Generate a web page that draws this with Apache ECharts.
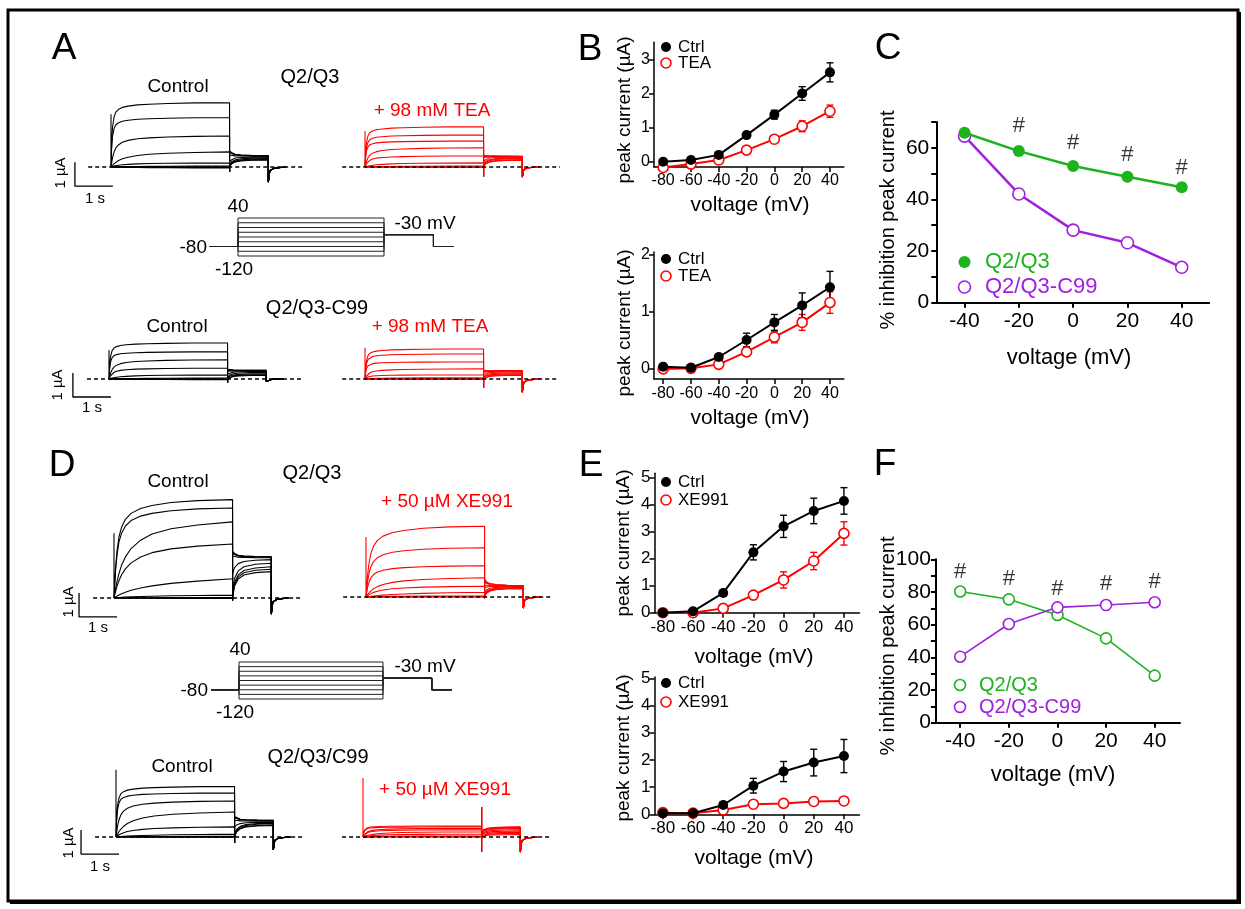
<!DOCTYPE html>
<html><head><meta charset="utf-8">
<script src="https://cdn.jsdelivr.net/npm/echarts@6/dist/echarts.min.js"></script>
<style>html,body{margin:0;padding:0;background:#fff}#c{width:1245px;height:909px}</style>
</head><body><div id="c"></div>
<script>
// ================= DATA =================
// I-V curves (panels B and E)
const ivVolt = [-80, -60, -40, -20, 0, 20, 40];
const bTopCtrl = [0.0, 0.05, 0.2, 0.78, 1.38, 2.0, 2.62];
const bTopCtrlErr = [0.04, 0.05, 0.06, 0.09, 0.13, 0.2, 0.28];
const bTopTEA = [-0.17, -0.07, 0.05, 0.34, 0.66, 1.04, 1.48];
const bTopTEAErr = [0.03, 0.03, 0.04, 0.06, 0.08, 0.16, 0.18];
const bBotCtrl = [0.03, 0.01, 0.2, 0.5, 0.81, 1.11, 1.43];
const bBotCtrlErr = [0.02, 0.02, 0.05, 0.12, 0.14, 0.22, 0.28];
const bBotTEA = [-0.01, 0.0, 0.07, 0.29, 0.55, 0.81, 1.16];
const bBotTEAErr = [0.02, 0.02, 0.03, 0.05, 0.1, 0.14, 0.19];
const eTopCtrl = [0.0, 0.05, 0.73, 2.23, 3.19, 3.76, 4.13];
const eTopCtrlErr = [0.02, 0.04, 0.12, 0.28, 0.41, 0.47, 0.49];
const eTopXE = [0.0, 0.0, 0.16, 0.65, 1.21, 1.91, 2.93];
const eTopXEErr = [0.02, 0.02, 0.05, 0.12, 0.3, 0.32, 0.43];
const eBotCtrl = [0.04, 0.04, 0.34, 1.05, 1.57, 1.9, 2.14];
const eBotCtrlErr = [0.02, 0.03, 0.12, 0.27, 0.37, 0.49, 0.61];
const eBotXE = [0.06, 0.04, 0.16, 0.37, 0.4, 0.47, 0.49];
const eBotXEErr = [0.02, 0.02, 0.04, 0.06, 0.06, 0.07, 0.07];

// % inhibition (panels C and F)
const inhVolt = [-40, -20, 0, 20, 40];
const cQ2Q3 = [65.8, 58.7, 52.9, 48.8, 44.7];
const cC99 = [64.5, 42.1, 28.1, 23.2, 13.7];
const cHashVolt = [-20, 0, 20, 40];
const cHashY = [68.3, 61.8, 57.3, 52.1];
const fQ2Q3 = [80.3, 75.5, 65.9, 51.6, 28.8];
const fC99 = [40.4, 60.4, 70.6, 72.0, 73.7];
const fHashVolt = [-40, -20, 0, 20, 40];
const fHashY = [92.3, 87.8, 82.1, 84.8, 86.0];

// tick values
const ivTicks = [-80, -60, -40, -20, 0, 20, 40];
const inhTicks = [-40, -20, 0, 20, 40];
const bTopYTicks = [0, 1, 2, 3];
const bBotYTicks = [0, 1, 2];
const eYTicks = [0, 1, 2, 3, 4, 5];
const cYTicks = [0, 10, 20, 30, 40, 50, 60, 70];
const cYLabels = [0, 20, 40, 60];
const fYTicks = [0, 10, 20, 30, 40, 50, 60, 70, 80, 90, 100];
const fYLabels = [0, 20, 40, 60, 80, 100];

// voltage protocol (mV, s)
const protoSteps = [-120, -100, -80, -60, -40, -20, 0, 20, 40];
const protoHold = -80;
const protoTail = -30;
const protoTimes = [-0.6, 0, 3.1, 4.15, 4.58];

// current traces (uA), sweeps ordered from +40 mV down to -120 mV
const stepDur = 3.12, tailDur = 1.02;
const riseT = [0, 0.015, 0.04, 0.08, 0.13, 0.2, 0.3, 0.45, 0.7, 1.0, 1.5, 2.2, 3.12];
const riseFast = [0, 0.35, 0.62, 0.78, 0.86, 0.9, 0.93, 0.95, 0.97, 0.98, 0.99, 1.0, 1.0];
const riseMid = [0, 0.12, 0.3, 0.48, 0.62, 0.72, 0.8, 0.86, 0.91, 0.94, 0.97, 0.99, 1.0];
const riseSlow = [0, 0.05, 0.12, 0.22, 0.32, 0.43, 0.54, 0.65, 0.76, 0.84, 0.91, 0.96, 1.0];
const riseVSlow = [0, 0.02, 0.05, 0.1, 0.15, 0.22, 0.3, 0.4, 0.52, 0.63, 0.76, 0.88, 1.0];
const tailT = [0, 0.05, 0.15, 0.3, 0.6, 1.02];
const tailShape = [0, 0.45, 0.72, 0.87, 0.96, 1.0];
const offT = [0, 0.04, 0.15, 0.45];
const offShape = [1, 0.25, 0.08, 0];

const aTopCtrlLevel = [2.67, 2.05, 1.29, 0.63, 0.17, 0.04, 0.0, -0.02, -0.04];
const aTopCtrlKin = [0, 0, 1, 2, 2, 3, 3, 3, 3];
const aTopCtrlTail0 = [0.68, 0.65, 0.6, 0.5, 0.25, 0.08, 0.03, 0.01, 0.0];
const aTopCtrlTail1 = [0.47, 0.47, 0.46, 0.45, 0.42, 0.38, 0.34, 0.31, 0.29];
const aTopCtrlSpikes = [2.2, null, -0.2, -0.63];
const aTopTEALevel = [1.67, 1.33, 1.08, 0.8, 0.46, 0.17, 0.04, 0.0, -0.02];
const aTopTEAKin = [0, 0, 0, 1, 1, 2, 3, 3, 3];
const aTopTEATail0 = [0.48, 0.47, 0.45, 0.4, 0.25, 0.1, 0.05, 0.02, 0.0];
const aTopTEATail1 = [0.45, 0.45, 0.44, 0.43, 0.42, 0.38, 0.35, 0.3, 0.28];
const aTopTEASpikes = [1.5, null, -0.4, -0.42];
const aBotCtrlLevel = [1.5, 1.13, 0.8, 0.45, 0.17, 0.04, 0.0, -0.02, -0.03];
const aBotCtrlKin = [0, 0, 1, 1, 2, 3, 3, 3, 3];
const aBotCtrlTail0 = [0.4, 0.4, 0.38, 0.33, 0.2, 0.05, 0.02, 0.0, 0.0];
const aBotCtrlTail1 = [0.36, 0.36, 0.35, 0.34, 0.32, 0.28, 0.22, 0.18, 0.15];
const aBotCtrlSpikes = [1.2, null, -0.15, -0.1];
const aBotTEALevel = [1.25, 1.04, 0.71, 0.42, 0.17, 0.05, 0.01, 0.0, -0.02];
const aBotTEAKin = [0, 0, 0, 1, 1, 2, 3, 3, 3];
const aBotTEATail0 = [0.36, 0.35, 0.33, 0.28, 0.18, 0.06, 0.02, 0.0, 0.0];
const aBotTEATail1 = [0.34, 0.34, 0.33, 0.32, 0.3, 0.26, 0.22, 0.18, 0.15];
const aBotTEASpikes = [1.3, null, -0.35, -0.55];
const dTopCtrlLevel = [4.1, 3.75, 3.17, 2.25, 0.8, 0.12, 0.02, 0.0, -0.02];
const dTopCtrlKin = [1, 1, 2, 2, 3, 3, 3, 3, 3];
const dTopCtrlTail0 = [1.95, 1.9, 1.85, 1.75, 1.0, 0.3, 0.1, 0.05, 0.0];
const dTopCtrlTail1 = [1.72, 1.72, 1.7, 1.68, 1.6, 1.45, 1.3, 1.2, 1.1];
const dTopCtrlSpikes = [2.7, null, -0.1, -0.67];
const dTopXELevel = [2.95, 2.05, 1.3, 0.8, 0.45, 0.2, 0.05, 0.01, 0.0];
const dTopXEKin = [1, 1, 1, 2, 2, 3, 3, 3, 3];
const dTopXETail0 = [0.75, 0.7, 0.6, 0.5, 0.4, 0.2, 0.1, 0.05, 0.0];
const dTopXETail1 = [0.48, 0.48, 0.47, 0.46, 0.45, 0.43, 0.4, 0.38, 0.35];
const dTopXESpikes = [2.5, null, -0.05, -0.46];
const dBotCtrlLevel = [2.1, 1.83, 1.5, 1.04, 0.42, 0.12, 0.03, 0.0, -0.01];
const dBotCtrlKin = [0, 0, 1, 2, 2, 3, 3, 3, 3];
const dBotCtrlTail0 = [0.85, 0.83, 0.8, 0.7, 0.4, 0.1, 0.05, 0.0, 0.0];
const dBotCtrlTail1 = [0.7, 0.7, 0.68, 0.66, 0.62, 0.58, 0.55, 0.5, 0.48];
const dBotCtrlSpikes = [2.8, null, -0.25, -0.54];
const dBotXELevel = [0.46, 0.42, 0.36, 0.3, 0.22, 0.12, 0.05, 0.02, 0.0];
const dBotXEKin = [0, 0, 1, 1, 2, 2, 3, 3, 3];
const dBotXETail0 = [0.2, 0.2, 0.18, 0.15, 0.1, 0.05, 0.02, 0.0, 0.0];
const dBotXETail1 = [0.42, 0.4, 0.38, 0.35, 0.3, 0.25, 0.2, 0.15, 0.1];
const dBotXESpikes = [2.46, 1.25, -0.63, -0.63];

// ================= BUILD =================
const FONT = "'Liberation Sans', Arial, Helvetica, sans-serif";
const RED = '#ff0000', GREEN = '#1db31d', PURPLE = '#a020e0';
const riseShapes = [riseFast, riseMid, riseSlow, riseVSlow];
const grids = [], xAxes = [], yAxes = [], series = [], gfx = [];

function addGrid(box, xa, ya) {
  grids.push(Object.assign({ containLabel: false, outerBoundsMode: 'none', show: false }, box));
  const i = grids.length - 1;
  xAxes.push(Object.assign({ gridIndex: i, type: 'value' }, xa));
  yAxes.push(Object.assign({ gridIndex: i, type: 'value' }, ya));
  return i;
}
function hiddenAxis(min, max) {
  return { min, max, show: false, splitLine: { show: false } };
}
function plotAxis(min, max, ticks, labels, fontSize, margin, w) {
  return {
    min, max,
    axisLine: { show: true, onZero: false, lineStyle: { color: '#000', width: w } },
    axisTick: { show: true, inside: false, length: 5, customValues: ticks, lineStyle: { color: '#000', width: w } },
    axisLabel: { show: true, customValues: labels, color: '#000', fontSize, fontFamily: FONT, margin },
    splitLine: { show: false }
  };
}

// ---- trace panels ----
const PXS = 38, PXA = 24; // px per second, px per uA
function tracePanel(stepX, baseY, dashT, levels, kin, tail0, tail1, spikes, color, scaleBar) {
  const xmin = -1.3, xmax = 5.3, ymin = -1.5, ymax = 4.7;
  const g = addGrid(
    { left: stepX + xmin * PXS, top: baseY - ymax * PXA, width: (xmax - xmin) * PXS, height: (ymax - ymin) * PXA },
    hiddenAxis(xmin, xmax), hiddenAxis(ymin, ymax));
  series.push({ type: 'line', xAxisIndex: g, yAxisIndex: g, data: [[dashT[0], 0], [dashT[1], 0]], symbol: 'none',
    lineStyle: { color: '#000', width: 1.6, type: [4, 3] }, z: 5, silent: true });
  const [sOn, sUp, sDown, sOff] = spikes;
  levels.forEach((lv, k) => {
    const shp = riseShapes[kin[k]];
    const d = [[0, 0]];
    if (k === 0 && sOn != null) { d.push([0, sOn]); d.push([0, 0]); }
    for (let i = 1; i < riseT.length; i++) d.push([riseT[i], lv * shp[i]]);
    d.push([stepDur, lv]);
    if (sUp != null) d.push([stepDur, sUp]);
    d.push([stepDur, sDown]);
    for (let i = 0; i < tailT.length; i++) d.push([stepDur + tailT[i], tail0[k] + (tail1[k] - tail0[k]) * tailShape[i]]);
    for (let i = 0; i < offT.length; i++) d.push([stepDur + tailDur + offT[i], sOff * offShape[i]]);
    series.push({ type: 'line', xAxisIndex: g, yAxisIndex: g, data: d, symbol: 'none',
      lineStyle: { color, width: 1.1 }, z: 2, silent: true });
  });
  if (scaleBar) {
    const [sx, sy] = scaleBar;
    series.push({ type: 'line', xAxisIndex: g, yAxisIndex: g, data: [[sx, sy + 1], [sx, sy], [sx + 1, sy]], symbol: 'none',
      lineStyle: { color: '#000', width: 1.3 }, z: 5, silent: true });
  }
}

tracePanel(111, 167, [-0.6, 5.05], aTopCtrlLevel, aTopCtrlKin, aTopCtrlTail0, aTopCtrlTail1, aTopCtrlSpikes, '#000', [-0.95, -0.8]);
tracePanel(365, 167, [-0.6, 5.13], aTopTEALevel, aTopTEAKin, aTopTEATail0, aTopTEATail1, aTopTEASpikes, RED, null);
tracePanel(109, 379, [-0.58, 5.1], aBotCtrlLevel, aBotCtrlKin, aBotCtrlTail0, aBotCtrlTail1, aBotCtrlSpikes, '#000', [-0.95, -0.75]);
tracePanel(365, 379, [-0.6, 5.08], aBotTEALevel, aBotTEAKin, aBotTEATail0, aBotTEATail1, aBotTEASpikes, RED, null);
tracePanel(114, 598, [-0.55, 4.9], dTopCtrlLevel, dTopCtrlKin, dTopCtrlTail0, dTopCtrlTail1, dTopCtrlSpikes, '#000', [-0.92, -0.79]);
tracePanel(366, 597, [-0.6, 4.92], dTopXELevel, dTopXEKin, dTopXETail0, dTopXETail1, dTopXESpikes, RED, null);
tracePanel(116, 837, [-0.55, 4.9], dBotCtrlLevel, dBotCtrlKin, dBotCtrlTail0, dBotCtrlTail1, dBotCtrlSpikes, '#000', [-0.92, -0.71]);
tracePanel(363, 837, [-0.55, 4.92], dBotXELevel, dBotXEKin, dBotXETail0, dBotXETail1, dBotXESpikes, RED, null);

// ---- voltage protocols ----
function protocolPanel(boxLeft, top40, pxs, pxmv) {
  const xmin = -0.8, xmax = 4.8, ymin = -130, ymax = 50;
  const g = addGrid({ left: boxLeft + xmin * pxs, top: top40 - (ymax - 40) * pxmv, width: (xmax - xmin) * pxs, height: (ymax - ymin) * pxmv },
    hiddenAxis(xmin, xmax), hiddenAxis(ymin, ymax));
  const [tPre, tOn, tOff, tTail, tEnd] = protoTimes;
  protoSteps.forEach(v => {
    series.push({ type: 'line', xAxisIndex: g, yAxisIndex: g, symbol: 'none', silent: true,
      data: [[tPre, protoHold], [tOn, protoHold], [tOn, v], [tOff, v], [tOff, protoTail], [tTail, protoTail], [tTail, protoHold], [tEnd, protoHold]],
      lineStyle: { color: '#222', width: 1 } });
  });
}
protocolPanel(238, 218, 47.1, 0.2375);
protocolPanel(239, 662, 46.45, 0.23125);

// ---- XY plots ----
function errSeries(g, xs, ys, es, color) {
  return { type: 'custom', xAxisIndex: g, yAxisIndex: g, z: 1, silent: true,
    data: xs.map((x, i) => [x, ys[i] - es[i], ys[i] + es[i]]),
    encode: { x: 0, y: [1, 2] },
    renderItem: (params, api) => {
      const x = api.value(0);
      const lo = api.coord([x, api.value(1)]), hi = api.coord([x, api.value(2)]);
      const w = 3.5, st = { stroke: color, lineWidth: 1.4 };
      return { type: 'group', children: [
        { type: 'line', shape: { x1: lo[0], y1: lo[1], x2: hi[0], y2: hi[1] }, style: st },
        { type: 'line', shape: { x1: hi[0] - w, y1: hi[1], x2: hi[0] + w, y2: hi[1] }, style: st },
        { type: 'line', shape: { x1: lo[0] - w, y1: lo[1], x2: lo[0] + w, y2: lo[1] }, style: st }
      ] };
    } };
}
function lineSeries(g, xs, ys, color, filled, size, width, z) {
  return { type: 'line', xAxisIndex: g, yAxisIndex: g, data: xs.map((x, i) => [x, ys[i]]), symbol: 'circle',
    symbolSize: size, showSymbol: true, clip: false, silent: true, z: z || 3,
    lineStyle: { color, width }, itemStyle: { color: filled ? color : '#fff', borderColor: color, borderWidth: filled ? 0 : 1.6 } };
}
function hashSeries(g, xs, ys) {
  return { type: 'scatter', xAxisIndex: g, yAxisIndex: g, data: xs.map((x, i) => [x, ys[i]]), symbolSize: 1, silent: true,
    itemStyle: { color: 'rgba(0,0,0,0)' },
    label: { show: true, formatter: '#', position: 'inside', color: '#000', fontSize: 22, fontFamily: FONT } };
}

function ivPanel(box, xr, yr, yTicks, ctrl, ctrlErr, drug, drugErr, fx, fy, mx, my) {
  const g = addGrid(box, plotAxis(xr[0], xr[1], ivTicks, ivTicks, fx, mx, 1.5), plotAxis(yr[0], yr[1], yTicks, yTicks, fy, my, 1.5));
  series.push(errSeries(g, ivVolt, drug, drugErr, RED));
  series.push(errSeries(g, ivVolt, ctrl, ctrlErr, '#000'));
  series.push(lineSeries(g, ivVolt, drug, RED, false, 10, 2, 3));
  series.push(lineSeries(g, ivVolt, ctrl, '#000', true, 10, 2, 4));
}
const bX = [-86.6, 50], bPx = 1.39;
ivPanel({ left: 654, top: 42.35, width: 136.6 * bPx, height: 3.655 * 34.1 }, bX, [-0.155, 3.5], bTopYTicks, bTopCtrl, bTopCtrlErr, bTopTEA, bTopTEAErr, 16, 16, 6, 4);
ivPanel({ left: 654, top: 252.1, width: 136.6 * bPx, height: 2.24 * 56.7 }, bX, [-0.19, 2.05], bBotYTicks, bBotCtrl, bBotCtrlErr, bBotTEA, bBotTEAErr, 16, 16, 6, 4);
const eX = [-85.6, 50.3], ePx = 1.509;
ivPanel({ left: 654.4, top: 473.3, width: 135.9 * ePx, height: 5.15 * 27.07 }, eX, [0, 5.15], eYTicks, eTopCtrl, eTopCtrlErr, eTopXE, eTopXEErr, 17, 17, 6, 4);
ivPanel({ left: 654.4, top: 676.9, width: 135.9 * ePx, height: 5.05 * 27.2 }, eX, [0, 5.05], eYTicks, eBotCtrl, eBotCtrlErr, eBotXE, eBotXEErr, 17, 17, 6, 4);

// panel C
const gC = addGrid({ left: 936.3, top: 121.9, width: 100.5 * 2.715, height: 180.8 },
  plotAxis(-50.4, 50.1, inhTicks, inhTicks, 21, 8, 2), plotAxis(0, 70, cYTicks, cYLabels, 21, 7, 2));
series.push(lineSeries(gC, inhVolt, cC99, PURPLE, false, 12, 2.5, 3));
series.push(lineSeries(gC, inhVolt, cQ2Q3, GREEN, true, 12, 2.5, 4));
series.push(hashSeries(gC, cHashVolt, cHashY));
// panel F
const gF = addGrid({ left: 935.9, top: 559.3, width: 100.4 * 2.431, height: 163.4 },
  plotAxis(-50, 50.4, inhTicks, inhTicks, 21, 8, 2), plotAxis(0, 100, fYTicks, fYLabels, 21, 5, 2));
series.push(lineSeries(gF, inhVolt, fQ2Q3, GREEN, false, 11, 1.6, 3));
series.push(lineSeries(gF, inhVolt, fC99, PURPLE, false, 11, 1.6, 4));
series.push(hashSeries(gF, fHashVolt, fHashY));

// ---- text & decorations ----
function T(x, y, text, size, color, align, rot) {
  return { type: 'text', x, y, rotation: rot || 0, silent: true, z: 10,
    style: { text, font: size + 'px ' + FONT, fill: color || '#000', align: align || 'center', verticalAlign: 'middle' } };
}
function dot(cx, cy, r, color, filled) {
  return { type: 'circle', shape: { cx, cy, r }, silent: true, z: 10,
    style: { fill: filled ? color : '#fff', stroke: color, lineWidth: filled ? 0 : 1.6 } };
}
const UP = Math.PI / 2;
gfx.push({ type: 'rect', shape: { x: 8, y: 10, width: 1230, height: 891 }, silent: true, z: 10,
  style: { fill: null, stroke: '#000', lineWidth: 3 } });
gfx.push({ type: 'polyline', shape: { points: [[1240, 12], [1240, 903], [10, 903]] }, silent: true, z: 10,
  style: { fill: null, stroke: '#000', lineWidth: 2 } });
// panel letters
[['A', 64, 49], ['B', 590, 50], ['C', 888, 49], ['D', 62, 466], ['E', 591, 466], ['F', 885, 465]]
  .forEach(([t, x, y]) => gfx.push(T(x, y, t, 37)));
// panel A texts
gfx.push(T(178, 87, 'Control', 19), T(310, 77, 'Q2/Q3', 20), T(432, 111, '+ 98 mM TEA', 19, RED));
gfx.push(T(238, 207, '40', 19), T(207, 248, '-80', 19, '#000', 'right'), T(234, 270, '-120', 19), T(425, 224, '-30 mV', 19));
gfx.push(T(317, 308, 'Q2/Q3-C99', 20), T(177, 327, 'Control', 19), T(430, 327, '+ 98 mM TEA', 19, RED));
gfx.push(T(61, 173, '1 µA', 15, '#000', 'center', UP), T(95, 199, '1 s', 15));
gfx.push(T(58, 385, '1 µA', 15, '#000', 'center', UP), T(92, 408, '1 s', 15));
// panel D texts
gfx.push(T(178, 482, 'Control', 19), T(312, 473, 'Q2/Q3', 20), T(447, 502, '+ 50 µM XE991', 19, RED));
gfx.push(T(240, 650, '40', 19), T(208, 691, '-80', 19, '#000', 'right'), T(235, 713, '-120', 19), T(425, 667, '-30 mV', 19));
gfx.push(T(318, 757, 'Q2/Q3/C99', 20), T(182, 767, 'Control', 19), T(445, 790, '+ 50 µM XE991', 19, RED));
gfx.push(T(69, 602, '1 µA', 15, '#000', 'center', UP), T(98, 628, '1 s', 15));
gfx.push(T(69, 843, '1 µA', 15, '#000', 'center', UP), T(100, 867, '1 s', 15));
// B / E axis names and legends
gfx.push(T(750, 205, 'voltage (mV)', 21), T(625, 110, 'peak current (µA)', 19, '#000', 'center', UP));
gfx.push(T(750, 418, 'voltage (mV)', 21), T(625, 323, 'peak current (µA)', 19, '#000', 'center', UP));
gfx.push(T(754, 657, 'voltage (mV)', 21), T(624, 543, 'peak current (µA)', 19, '#000', 'center', UP));
gfx.push(T(754, 858, 'voltage (mV)', 21), T(624, 748, 'peak current (µA)', 19, '#000', 'center', UP));
function ivLegend(y1, y2, drugName) {
  gfx.push(dot(666, y1, 5, '#000', true), T(678, y1, 'Ctrl', 17, '#000', 'left'));
  gfx.push(dot(666, y2, 5, RED, false), T(678, y2, drugName, 17, '#000', 'left'));
}
ivLegend(47, 63, 'TEA');
ivLegend(259, 276, 'TEA');
ivLegend(482, 500, 'XE991');
ivLegend(683, 702, 'XE991');
// C / F axis names and legends
gfx.push(T(1069, 358, 'voltage (mV)', 22), T(888, 220, '% inhibition peak current', 20, '#000', 'center', UP));
gfx.push(dot(964.5, 262, 6, GREEN, true), T(985, 262, 'Q2/Q3', 22, GREEN, 'left'));
gfx.push(dot(964.5, 287, 6, PURPLE, false), T(985, 287, 'Q2/Q3-C99', 22, PURPLE, 'left'));
gfx.push(T(1053, 775, 'voltage (mV)', 22), T(888, 646, '% inhibition peak current', 20, '#000', 'center', UP));
gfx.push(dot(960, 685, 5.5, GREEN, false), T(979, 685, 'Q2/Q3', 20, GREEN, 'left'));
gfx.push(dot(960, 707, 5.5, PURPLE, false), T(979, 707, 'Q2/Q3-C99', 20, PURPLE, 'left'));

const chart = echarts.init(document.getElementById('c'), null, { renderer: 'canvas' });
chart.setOption({
  animation: false,
  backgroundColor: '#fff',
  textStyle: { fontFamily: FONT },
  grid: grids, xAxis: xAxes, yAxis: yAxes, series, graphic: gfx
});
</script></body></html>
